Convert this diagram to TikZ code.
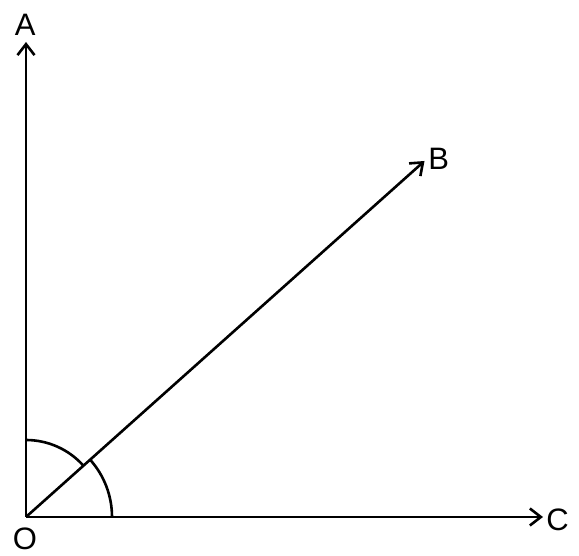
\documentclass[tikz,border=0pt]{standalone}
\usepackage{fontspec}
\setmainfont{Liberation Sans}
\usetikzlibrary{arrows.meta}
\begin{document}
\begin{tikzpicture}[x=1pt,y=1pt,
  ray/.style={line width=2.6pt,-{Straight Barb[length=11pt,width=17pt,line width=2.6pt]}},
  anglearc/.style={line width=2.6pt},
  lab/.style={inner sep=0pt,font=\fontsize{31}{36}\selectfont}]
\useasboundingbox (0,0) rectangle (579,556);
\coordinate (o) at (26,39);
\coordinate (a) at (26,514);
\coordinate (b) at (424.5,395);
\coordinate (c) at (543,39);
\draw[ray] (o) -- (a);
\draw[ray] (o) -- (b);
\draw[ray] (o) -- (c);
\draw[anglearc] ([shift={(90:77)}]o) arc[start angle=90,end angle=41.8,radius=77];
\draw[anglearc] ([shift={(0:86)}]o) arc[start angle=0,end angle=41.8,radius=86];
\node[lab] (A) at (25.3,531) {A};
\node[lab] (B) at (438.7,397) {B};
\node[lab] (C) at (557.5,36) {C};
\node[lab] (O) at (25,17) {O};
\end{tikzpicture}
\end{document}
